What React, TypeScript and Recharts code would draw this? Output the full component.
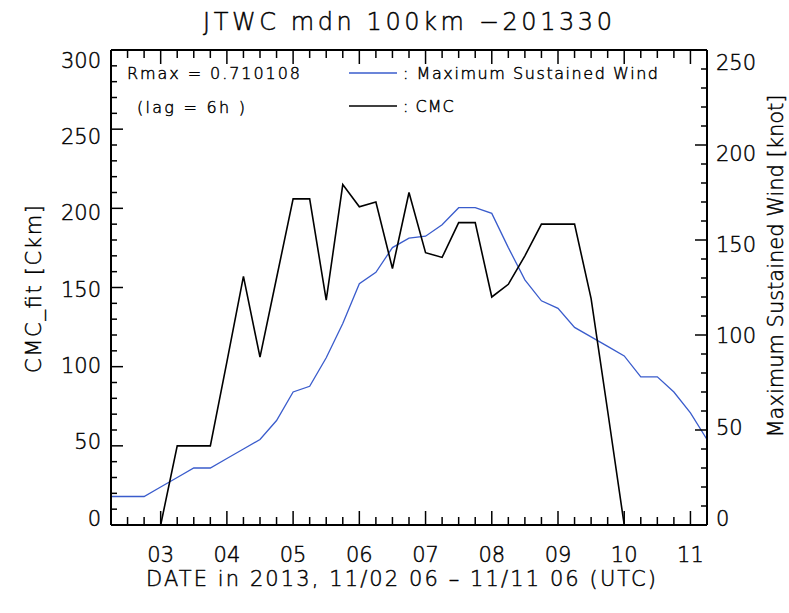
import { LineChart, Line, XAxis, YAxis, ReferenceLine } from "recharts";

// hours since 2013-11-02 06 UTC, every 6 h
const hours = [
  0, 6, 12, 18, 24, 30, 36, 42, 48, 54, 60, 66, 72, 78, 84, 90, 96, 102, 108,
  114, 120, 126, 132, 138, 144, 150, 156, 162, 168, 174, 180, 186, 192, 198,
  204, 210, 216,
];

// JTWC maximum sustained wind [knot]
const windKt = [
  15, 15, 15, 20, 25, 30, 30, 35, 40, 45, 55, 70, 73, 88, 106, 127, 133, 146,
  151, 152, 158, 167, 167, 164, 146, 129, 118, 114, 104, 99, 94, 89, 78, 78,
  70, 59, 45,
];

// CMC_fit [Ckm]
const cmc = [
  null, null, null, 0, 50, 50, 50, 103, 157, 106, 156, 206, 206, 142, 215, 201,
  204, 162, 210, 172, 169, 191, 191, 144, 152, 170, 190, 190, 190, 143, 72, 0,
  null, null, null, null, null,
];

const dayHours = [18, 42, 66, 90, 114, 138, 162, 186, 210];
const dayLabels = ["03", "04", "05", "06", "07", "08", "09", "10", "11"];
const leftTicks = [0, 10, 20, 30, 40, 50, 60, 70, 80, 90, 100, 110, 120, 130, 140, 150, 160, 170, 180, 190, 200, 210, 220, 230, 240, 250, 260, 270, 280, 290, 300];
const rightTicks = [0, 10, 20, 30, 40, 50, 60, 70, 80, 90, 100, 110, 120, 130, 140, 150, 160, 170, 180, 190, 200, 210, 220, 230, 240, 250];

const data = hours.map((t, i) => ({ t, wind: windKt[i], cmc: cmc[i] }));

const PLOT = { left: 111, right: 707, top: 50, bottom: 525 };
const FONT = "'DejaVu Sans', sans-serif";
const BLUE = "#3a5ccc";
// thin vector-like lettering
const TXT = { fontFamily: FONT, fontWeight: 300, fill: "#000", stroke: "#000", strokeWidth: 0.45 };

function XTick(props: any) {
  const { x, payload } = props;
  const idx = dayHours.indexOf(payload.value);
  const len = idx >= 0 ? 14 : 8;
  return (
    <g>
      <line x1={x} x2={x} y1={PLOT.bottom} y2={PLOT.bottom - len} stroke="#000" strokeWidth={1.5} />
      <line x1={x} x2={x} y1={PLOT.top} y2={PLOT.top + len} stroke="#000" strokeWidth={1.5} />
      {idx >= 0 && (
        <text x={x} y={562} textAnchor="middle" fontSize={21} {...TXT}>
          {dayLabels[idx]}
        </text>
      )}
    </g>
  );
}

function LeftTick(props: any) {
  const { y, payload } = props;
  const v = payload.value;
  const major = v % 50 === 0;
  const ly = y - 7.5 + 17 * (v / 300) + 8;
  return (
    <g>
      <line x1={PLOT.left} x2={PLOT.left + (major ? 12 : 6)} y1={y} y2={y} stroke="#000" strokeWidth={1.5} />
      {major && (
        <text x={101} y={ly} textAnchor="end" fontSize={21} {...TXT}>
          {v}
        </text>
      )}
    </g>
  );
}

function RightTick(props: any) {
  const { y, payload } = props;
  const v = payload.value;
  const major = v % 50 === 0;
  const ly = y - 7 + 18.5 * (v / 250) + 8;
  return (
    <g>
      <line x1={PLOT.right} x2={PLOT.right - (major ? 12 : 6)} y1={y} y2={y} stroke="#000" strokeWidth={1.5} />
      {major && (
        <text x={716} y={ly} textAnchor="start" fontSize={21} {...TXT}>
          {v}
        </text>
      )}
    </g>
  );
}

const legendItems = [
  { name: ": Maximum Sustained Wind", color: BLUE, y: 73, width: 255 },
  { name: ": CMC", color: "#000", y: 106, width: 0 },
];

export default function App() {
  return (
    <div style={{ position: "absolute", left: 0, top: 0, width: 789, height: 613, background: "#fff" }}>
      <LineChart
        width={789}
        height={613}
        data={data}
        margin={{ top: 50, right: 20, bottom: 20, left: 40 }}
      >
        <XAxis
          dataKey="t"
          type="number"
          domain={[0, 216]}
          ticks={hours}
          interval={0}
          height={68}
          tick={<XTick />}
          tickLine={false}
          axisLine={{ stroke: "#000", strokeWidth: 2 }}
        />
        <YAxis
          yAxisId="left"
          domain={[0, 300]}
          ticks={leftTicks}
          interval={0}
          width={71}
          tick={<LeftTick />}
          tickLine={false}
          axisLine={{ stroke: "#000", strokeWidth: 2 }}
        />
        <YAxis
          yAxisId="right"
          orientation="right"
          domain={[0, 250]}
          ticks={rightTicks}
          interval={0}
          width={62}
          tick={<RightTick />}
          tickLine={false}
          axisLine={{ stroke: "#000", strokeWidth: 2 }}
        />
        <ReferenceLine yAxisId="left" y={300} stroke="#000" strokeWidth={2} />
        <Line
          yAxisId="right"
          dataKey="wind"
          type="linear"
          stroke={BLUE}
          strokeWidth={1.3}
          dot={false}
          isAnimationActive={false}
        />
        <Line
          yAxisId="left"
          dataKey="cmc"
          type="linear"
          stroke="#000"
          strokeWidth={1.6}
          dot={false}
          isAnimationActive={false}
        />
      </LineChart>

      <svg
        width={789}
        height={613}
        style={{ position: "absolute", left: 0, top: 0, pointerEvents: "none" }}
        {...TXT}
      >
        <text x={407.5} y={30} textAnchor="middle" fontSize={24} textLength={409} lengthAdjust="spacing">
          JTWC mdn 100km −201330
        </text>
        <text x={401} y={586} textAnchor="middle" fontSize={21} textLength={510} lengthAdjust="spacing">
          DATE in 2013, 11/02 06 – 11/11 06 (UTC)
        </text>
        <text
          transform="translate(41,289) rotate(-90)"
          textAnchor="middle"
          fontSize={21}
          textLength={168}
          lengthAdjust="spacing"
        >
          CMC_fit [Ckm]
        </text>
        <text
          transform="translate(783,266) rotate(-90)"
          textAnchor="middle"
          fontSize={21}
          textLength={343}
          lengthAdjust="spacing"
        >
          Maximum Sustained Wind [knot]
        </text>
        <text x={127} y={79} fontSize={16} textLength={173} lengthAdjust="spacing">
          Rmax = 0.710108
        </text>
        <text x={137} y={113} fontSize={16} textLength={108} lengthAdjust="spacing">
          (lag = 6h )
        </text>
        {legendItems.map((it) => (
          <g key={it.name}>
            <line x1={349} x2={397} y1={it.y} y2={it.y} stroke={it.color} strokeWidth={1.5} />
            <text
              x={403}
              y={it.y + 6}
              fontSize={16}
              letterSpacing={it.width ? undefined : 1}
              textLength={it.width || undefined}
              lengthAdjust="spacing"
            >
              {it.name}
            </text>
          </g>
        ))}
      </svg>
    </div>
  );
}
